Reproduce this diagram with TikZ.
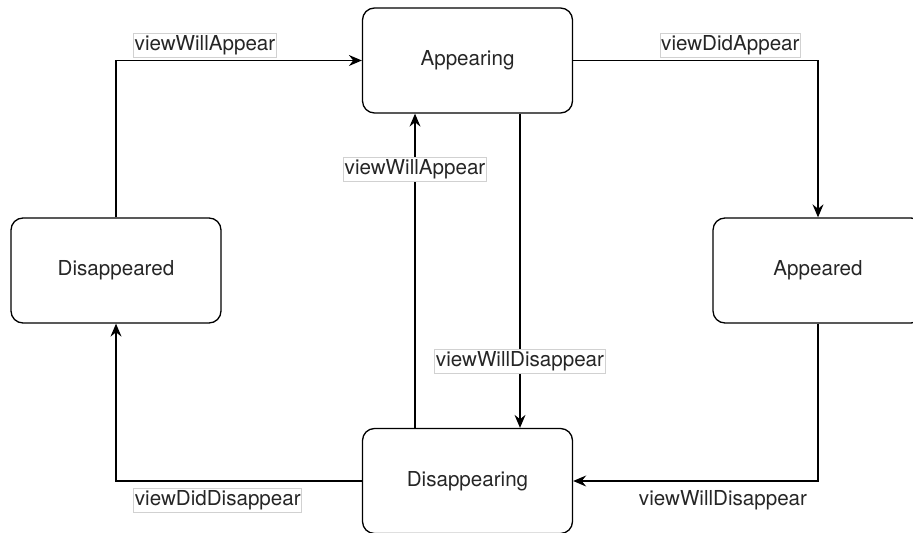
\documentclass[tikz,border=0pt]{standalone}
\usepackage{fontspec}
\setmainfont{TeX Gyre Heros}
\usetikzlibrary{arrows.meta}
\begin{document}
\begin{tikzpicture}[x=0.5pt, y=-0.5pt,
  every node/.style = {font=\fontsize{10.3pt}{12pt}\selectfont, text=black!85},
  state/.style = {shape=rectangle, rounded corners=6pt, draw, line width=0.65pt,
    minimum width=105pt, minimum height=52.5pt, align=center},
  lbl/.style = {fill=white, draw=black!18, line width=0.4pt,
    inner xsep=0.6pt, inner ysep=1pt, text height=7.6pt, text depth=2.4pt},
  plain/.style = {inner xsep=0.6pt, inner ysep=1pt, text height=7.6pt, text depth=2.4pt},
  arr/.style = {line width=0.65pt,
    -{Stealth[length=6.5pt, width=5.5pt, inset=2.2pt]}}]
 \useasboundingbox (0,0) rectangle (913,533);
 % states
 \node[state] (appearing)    at (467.5,60.5) {Appearing};
 \node[state] (disappeared)  at (116,270.5)  {Disappeared};
 \node[state] (appeared)     at (818,270.5)  {Appeared};
 \node[state] (disappearing) at (467.5,481)  {Disappearing};
 % transitions
 \draw[arr] (disappeared.north) |- (appearing.west)
   node[lbl, pos=0.681, above=1.5pt] (wa1) {viewWillAppear};
 \draw[arr] (appearing.east) -| (appeared.north)
   node[lbl, pos=0.321, above=1.5pt] (da) {viewDidAppear};
 \draw[arr] ([xshift=26.25pt]appearing.south) -- ([xshift=26.25pt]disappearing.north)
   node[lbl, pos=0.788] (wd1) {viewWillDisappear};
 \draw[arr] ([xshift=-26.25pt]disappearing.north) -- ([xshift=-26.25pt]appearing.south)
   node[lbl, pos=0.823] (wa2) {viewWillAppear};
 \draw[arr] (appeared.south) |- (disappearing.east)
   node[plain, pos=0.694, below=3.5pt] (wd2) {viewWillDisappear};
 \draw[arr] (disappearing.west) -| (disappeared.south)
   node[lbl, pos=0.293, below=3.5pt] (dd) {viewDidDisappear};
\end{tikzpicture}
\end{document}
